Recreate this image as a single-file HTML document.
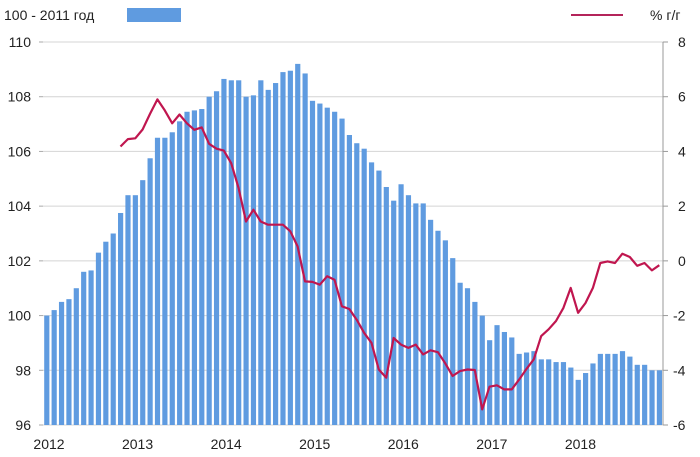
<!DOCTYPE html>
<html><head><meta charset="utf-8"><style>
body{margin:0;background:#fff;}
svg{display:block;font-family:"Liberation Sans","DejaVu Sans",sans-serif;}
</style></head><body>
<svg id="chart" width="700" height="457" viewBox="0 0 700 457">
<g>
<text x="4" y="20" font-size="14" fill="#222">100 - 2011 год</text>
<rect x="127" y="8" width="54" height="14" fill="#5f9be0"/>
<line x1="571" y1="15" x2="623" y2="15" stroke="#b4245a" stroke-width="2"/>
<text x="650" y="20" font-size="14" fill="#222">%  г/г</text>
</g>
<g id="grid"></g><g id="bars"></g><g id="axes"></g><g id="line"></g>
</svg>
<script>
const bars = [100.0,100.2,100.5,100.6,101.0,101.6,101.65,102.3,102.7,103.0,103.75,104.4,
104.4,104.95,105.75,106.5,106.5,106.7,107.1,107.45,107.5,107.55,108.0,108.2,
108.65,108.6,108.6,108.0,108.05,108.6,108.25,108.5,108.9,108.95,109.2,108.85,
107.85,107.75,107.6,107.45,107.2,106.6,106.3,106.1,105.6,105.3,104.7,104.2,
104.8,104.4,104.1,104.1,103.5,103.1,102.75,102.1,101.2,101.0,100.5,100.0,
99.1,99.65,99.4,99.2,98.6,98.65,98.7,98.4,98.4,98.3,98.3,98.1,
97.65,97.9,98.25,98.6,98.6,98.6,98.7,98.5,98.2,98.2,98.0,98.0];
const lineStart = 10;
const lineVals = [4.18,4.45,4.48,4.8,5.37,5.9,5.5,5.03,5.35,5.03,4.79,4.88,4.28,4.1,4.03,3.57,2.66,1.44,1.87,1.44,1.32,1.32,1.32,1.08,0.53,-0.75,-0.77,-0.87,-0.56,-0.69,-1.66,-1.76,-2.15,-2.63,-3.0,-3.97,-4.27,-2.82,-3.06,-3.18,-3.06,-3.42,-3.27,-3.34,-3.75,-4.21,-4.03,-3.97,-3.99,-5.43,-4.6,-4.55,-4.7,-4.7,-4.34,-3.95,-3.6,-2.75,-2.5,-2.2,-1.72,-0.99,-1.9,-1.54,-0.99,-0.08,-0.02,-0.08,0.26,0.14,-0.18,-0.08,-0.35,-0.16];
const leftTicks = [96,98,100,102,104,106,108,110];
const rightTicks = [-6,-4,-2,0,2,4,6,8];
const years = ["2012","2013","2014","2015","2016","2017","2018"];

const X0=43, X1=663, Y0=42, Y1=425;
const step=(X1-X0)/bars.length;
const yL=v=>Y1-(v-96)/14*(Y1-Y0);
const yR=v=>Y1-(v+6)/14*(Y1-Y0);
const xC=i=>X0+(i+0.5)*step;
const NS="http://www.w3.org/2000/svg";
function mk(tag,attrs,parent){const e=document.createElementNS(NS,tag);for(const k in attrs)e.setAttribute(k,attrs[k]);parent.appendChild(e);return e;}
const grid=document.getElementById('grid'),barsG=document.getElementById('bars'),axes=document.getElementById('axes'),lineG=document.getElementById('line');
leftTicks.forEach((t,j)=>{
 const y=yL(t);
 const g=mk('line',{x1:X0,x2:X1,y1:y,y2:y,stroke:'#d4d4d4','stroke-width':1},grid);
 
 
 const tk=mk('line',{x1:X0-4,x2:X0,y1:y,y2:y,stroke:'#aaa'},axes);
 
 
 const lt=mk('text',{x:31,y:y+5,'font-size':14,fill:'#222','text-anchor':'end'},axes);
 lt.textContent=t;
 
 
});
rightTicks.forEach(t=>{
 const y=yR(t);
 const tk=mk('line',{x1:X1,x2:X1+5,y1:y,y2:y,stroke:'#999'},axes);
 
 
 const rt=mk('text',{x:t<0?673:678,y:y+5,'font-size':14,fill:'#222'},axes);
 rt.textContent=t;
 
 
});
const ax=mk('line',{x1:X1,x2:X1,y1:Y0,y2:Y1,stroke:'#999'},axes);


bars.forEach((v,i)=>{
 const y=yL(v);
 const r=mk('rect',{x:X0+i*step+1.2,y:y,width:step-2.2,height:Y1-y,fill:'#5f9be0'},barsG);
 
 
});
years.forEach((yr,j)=>{
 const t=mk('text',{x:X0+j*12*step+6,y:449,'font-size':14,fill:'#222','text-anchor':'middle'},axes);
 t.textContent=yr;
 
 
});
const pts=lineVals.map((v,k)=>xC(lineStart+k).toFixed(1)+','+yR(v).toFixed(1)).join(' ');
const pl=mk('polyline',{points:pts,fill:'none',stroke:'#c0164f','stroke-width':2.2,'stroke-linejoin':'round'},lineG);


</script>
</body></html>
